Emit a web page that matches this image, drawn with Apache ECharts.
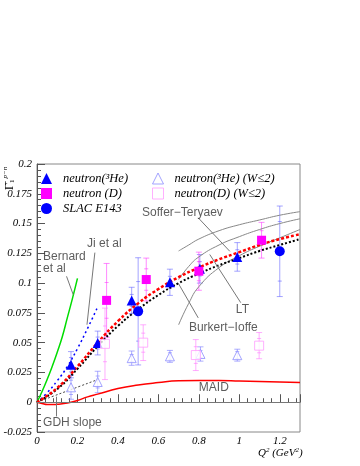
<!DOCTYPE html>
<html>
<head>
<meta charset="utf-8">
<script src="https://cdn.jsdelivr.net/npm/echarts@6/dist/echarts.min.js"></script>
<style>
  html, body { margin: 0; padding: 0; background: #fff; }
  #chart { width: 360px; height: 466px; }
</style>
</head>
<body>
<div id="chart"></div>
<script>
// measured points: [Q2, value, total error, stat error]
const he3Points = [
  [0.168, 0.0315, 0.011, 0.006],
  [0.300, 0.0497, 0.010, 0.005],
  [0.468, 0.0855, 0.011, 0.005],
  [0.657, 0.1007, 0.011, 0.005],
  [0.805, 0.1120, 0.012, 0.006],
  [0.990, 0.1220, 0.012, 0.006]
];
const deutPoints = [
  [0.344, 0.0855, 0.031, 0.015],
  [0.540, 0.1030, 0.018, 0.009],
  [0.800, 0.1100, 0.016, 0.008],
  [1.110, 0.1360, 0.015, 0.008]
];
const slacPoints = [
  [0.500, 0.0763, 0.045, 0.025],
  [1.200, 0.1267, 0.038, 0.025]
];
const he3LowW = [
  [0.168, 0.0125, 0.010, 0.006],
  [0.300, 0.0170, 0.009, 0.005],
  [0.468, 0.0370, 0.006, 0.003],
  [0.657, 0.0385, 0.005, 0.003],
  [0.808, 0.0405, 0.006, 0.003],
  [0.990, 0.0395, 0.005, 0.003]
];
const deutLowW = [
  [0.336, 0.0490, 0.030, 0.015],
  [0.525, 0.0500, 0.015, 0.008],
  [0.785, 0.0396, 0.013, 0.007],
  [1.098, 0.0475, 0.011, 0.006]
];

// model curves
const bernardQ2 = [0, 0.025, 0.05, 0.075, 0.1, 0.125, 0.15, 0.175, 0.2];
const bernardG  = [0, 0.009, 0.019, 0.030, 0.042, 0.055, 0.071, 0.087, 0.104];
const jiQ2 = [0, 0.05, 0.1, 0.15, 0.2, 0.25, 0.3];
const jiG  = [0, 0.008, 0.018, 0.030, 0.045, 0.062, 0.080];
const gdhQ2 = [0, 0.3];
const gdhG  = [0, 0.019];
const modelQ2  = [0, 0.1, 0.2, 0.3, 0.4, 0.5, 0.6, 0.7, 0.8, 0.9, 1.0, 1.1, 1.2, 1.3];
const softerG  = [0, 0.012, 0.030, 0.050, 0.068, 0.083, 0.095, 0.105, 0.113, 0.120, 0.126, 0.132, 0.137, 0.141];
const burkertG = [0, 0.011, 0.028, 0.047, 0.064, 0.078, 0.090, 0.100, 0.108, 0.115, 0.121, 0.127, 0.132, 0.137];
const maidQ2 = [0, 0.025, 0.05, 0.075, 0.1, 0.15, 0.2, 0.25, 0.3, 0.4, 0.5, 0.6, 0.7, 0.8, 0.9, 1.0, 1.1, 1.2, 1.3];
const maidG  = [0, -0.001, -0.002, -0.002, -0.0017, -0.0006, 0.0015, 0.0045, 0.0068, 0.0115, 0.0145, 0.0165, 0.018, 0.0183, 0.0182, 0.0178, 0.0174, 0.017, 0.0166];
const ltQ2  = [0.7, 0.75, 0.8, 0.9, 1.0, 1.1, 1.2, 1.3];
const ltHi  = [0.127, 0.132, 0.137, 0.144, 0.149, 0.153, 0.157, 0.160];
const ltMid = [0.103, 0.114, 0.122, 0.132, 0.139, 0.145, 0.150, 0.154];
const ltLo  = [0.065, 0.083, 0.097, 0.113, 0.123, 0.131, 0.138, 0.145];

// annotations
const noteText = ['Bernard\net al', 'Ji et al', 'Soffer\u2212Teryaev', 'LT', 'Burkert\u2212Ioffe', 'MAID', 'GDH slope'];
const noteX = [0.030, 0.247, 0.519, 0.983, 0.751, 0.800, 0.030];
const noteY = [0.117, 0.133, 0.159, 0.0777, 0.0626, 0.0122, -0.0172];
const arrowFrom = [[0.146, 0.1057], [0.286, 0.1256], [0.797, 0.1548], [1.007, 0.0836], [0.797, 0.0708], [0.097, -0.0119]];
const arrowTo   = [[0.179, 0.0903], [0.247, 0.0651], [0.953, 0.1267], [0.854, 0.1240], [0.698, 0.1000], [0.097, 0.0046]];

const zip = (xs, ys) => xs.map((x, i) => [x, ys[i]]);
const serif = 'Liberation Serif';

function errorBars(name, data, color) {
  return {
    name: name + ' err',
    type: 'custom',
    data: data,
    z: 2,
    silent: true,
    renderItem: function (params, api) {
      const x = api.value(0), y = api.value(1), e = api.value(2), s = api.value(3);
      const top = api.coord([x, y + e]);
      const bot = api.coord([x, y - e]);
      const sTop = api.coord([x, y + s]);
      const sBot = api.coord([x, y - s]);
      const st = { stroke: color, lineWidth: 1 };
      const cap = (p, w) => ({ type: 'line', shape: { x1: p[0] - w, y1: p[1], x2: p[0] + w, y2: p[1] }, style: st });
      return {
        type: 'group',
        children: [
          { type: 'line', shape: { x1: top[0], y1: top[1], x2: bot[0], y2: bot[1] }, style: st },
          cap(top, 3), cap(bot, 3), cap(sTop, 2), cap(sBot, 2)
        ]
      };
    }
  };
}

function points(name, data, symbol, size, color, empty) {
  return {
    name: name,
    type: 'scatter',
    data: data.map(d => [d[0], d[1]]),
    symbol: symbol,
    symbolSize: size,
    z: 4,
    itemStyle: empty ? { color: '#fff', borderColor: color, borderWidth: 1 } : { color: color, opacity: 1 }
  };
}

function curve(xs, ys, color, width, type) {
  return {
    type: 'line',
    data: zip(xs, ys),
    smooth: true,
    showSymbol: false,
    silent: true,
    z: 3,
    lineStyle: { color: color, width: width, type: type }
  };
}

const chart = echarts.init(document.getElementById('chart'));

const legendText = { fontFamily: serif, fontStyle: 'italic', fontSize: 12.5, color: '#000', lineHeight: 11, padding: [0, 0, 0, 6] };

chart.setOption({
  animation: false,
  backgroundColor: '#fff',
  grid: { left: 37, top: 164, width: 263, height: 268, show: true, borderColor: '#888', borderWidth: 1 },
  legend: [
    {
      left: 41, top: 172, padding: 0, orient: 'vertical', itemGap: 2, itemWidth: 11, itemHeight: 11,
      textStyle: legendText,
      data: [
        { name: 'neutron(\u00b3He)', icon: 'triangle' },
        { name: 'neutron (D)', icon: 'rect' },
        { name: 'SLAC E143', icon: 'circle' }
      ]
    },
    {
      left: 152, top: 172, padding: 0, orient: 'vertical', itemGap: 2, itemWidth: 11, itemHeight: 11,
      textStyle: legendText,
      data: [
        { name: 'neutron(\u00b3He) (W\u22642)', icon: 'triangle', itemStyle: { color: '#fff', borderColor: '#8c8cff', borderWidth: 1 } },
        { name: 'neutron(D) (W\u22642)', icon: 'rect', itemStyle: { color: '#fff', borderColor: '#ff9cff', borderWidth: 1 } }
      ]
    }
  ],
  xAxis: {
    type: 'value', min: 0, max: 1.3, interval: 0.2,
    axisLine: { lineStyle: { color: '#555' } },
    axisTick: { inside: true, length: 8, lineStyle: { color: '#555' } },
    minorTick: { show: true, splitNumber: 5, length: 4, lineStyle: { color: '#555' } },
    splitLine: { show: false },
    axisLabel: {
      margin: 4, showMaxLabel: false,
      fontFamily: serif, fontStyle: 'italic', fontSize: 11, color: '#000',
      formatter: v => String(Number(v.toFixed(2)))
    }
  },
  yAxis: {
    type: 'value', min: -0.025, max: 0.2, interval: 0.025,
    axisLine: { show: true, lineStyle: { color: '#555' } },
    axisTick: { show: true, inside: true, length: 8, lineStyle: { color: '#555' } },
    minorTick: { show: true, splitNumber: 5, length: 4, lineStyle: { color: '#555' } },
    splitLine: { show: false },
    axisLabel: {
      margin: 5,
      fontFamily: serif, fontStyle: 'italic', fontSize: 11, color: '#000',
      formatter: v => String(Number(v.toFixed(3)))
    }
  },
  graphic: [
    {
      type: 'text', left: 258, top: 447,
      style: {
        text: '{a|Q}{s|2}{a| (GeV}{s|2}{a|)}',
        rich: {
          a: { fontFamily: serif, fontStyle: 'italic', fontSize: 11, color: '#000' },
          s: { fontFamily: serif, fontStyle: 'italic', fontSize: 7, color: '#000', verticalAlign: 'top', padding: [0, 0, 6, 0] }
        }
      }
    },
    {
      type: 'text', x: 2, y: 190, rotation: Math.PI / 2,
      style: {
        text: '{a|\u0393\u0304}{s|1}{p|p\u2212n}',
        rich: {
          a: { fontFamily: serif, fontSize: 12, color: '#000' },
          s: { fontFamily: serif, fontSize: 7, color: '#000', padding: [6, 0, 0, 0] },
          p: { fontFamily: serif, fontStyle: 'italic', fontSize: 7, color: '#000', padding: [0, 0, 8, 1] }
        }
      }
    }
  ],
  series: [
    // annotations, arrows and the zero line
    {
      type: 'scatter',
      data: noteText.map((t, i) => ({ name: t, value: [noteX[i], noteY[i]] })),
      symbolSize: 0,
      silent: true,
      z: 5,
      label: {
        show: true, position: 'right', distance: 0, formatter: '{b}',
        fontFamily: 'Liberation Sans', fontSize: 12, color: '#333', lineHeight: 12
      },
      markLine: {
        silent: true,
        symbol: ['none', 'arrow'],
        symbolSize: [0, 6],
        label: { show: false },
        lineStyle: { color: '#777', width: 1, type: 'solid' },
        data: arrowFrom.map((p, i) => [{ coord: p }, { coord: arrowTo[i] }])
          .concat([[{ coord: [0, 0], symbol: 'none' }, { coord: [1.3, 0], symbol: 'none' }]])
      }
    },
    curve(ltQ2, ltHi, '#888', 1, 'solid'),
    curve(ltQ2, ltMid, '#888', 1, 'solid'),
    curve(ltQ2, ltLo, '#888', 1, 'solid'),
    curve(maidQ2, maidG, '#ff0000', 1.5, 'solid'),
    curve(gdhQ2, gdhG, '#444', 1, [2, 2]),
    curve(bernardQ2, bernardG, '#00dd00', 1.5, 'solid'),
    curve(jiQ2, jiG, '#0000ff', 1.5, [2, 3]),
    curve(modelQ2, burkertG, '#000', 2, [2, 2]),
    curve(modelQ2, softerG, '#ff0000', 2.5, [3, 2]),
    errorBars('he3', he3Points, 'rgba(90,90,255,0.55)'),
    errorBars('d', deutPoints, 'rgba(255,60,255,0.6)'),
    errorBars('slac', slacPoints, 'rgba(90,90,255,0.55)'),
    errorBars('he3w', he3LowW, 'rgba(120,120,255,0.6)'),
    errorBars('dw', deutLowW, 'rgba(255,120,255,0.6)'),
    points('neutron(\u00b3He)', he3Points, 'triangle', 10, '#0000ff', false),
    points('neutron (D)', deutPoints, 'rect', 9, '#ff00ff', false),
    points('SLAC E143', slacPoints, 'circle', 10, '#0000ff', false),
    points('neutron(\u00b3He) (W\u22642)', he3LowW, 'triangle', 9, '#8c8cff', true),
    points('neutron(D) (W\u22642)', deutLowW, 'rect', 9, '#ff9cff', true)
  ]
});
</script>
</body>
</html>
